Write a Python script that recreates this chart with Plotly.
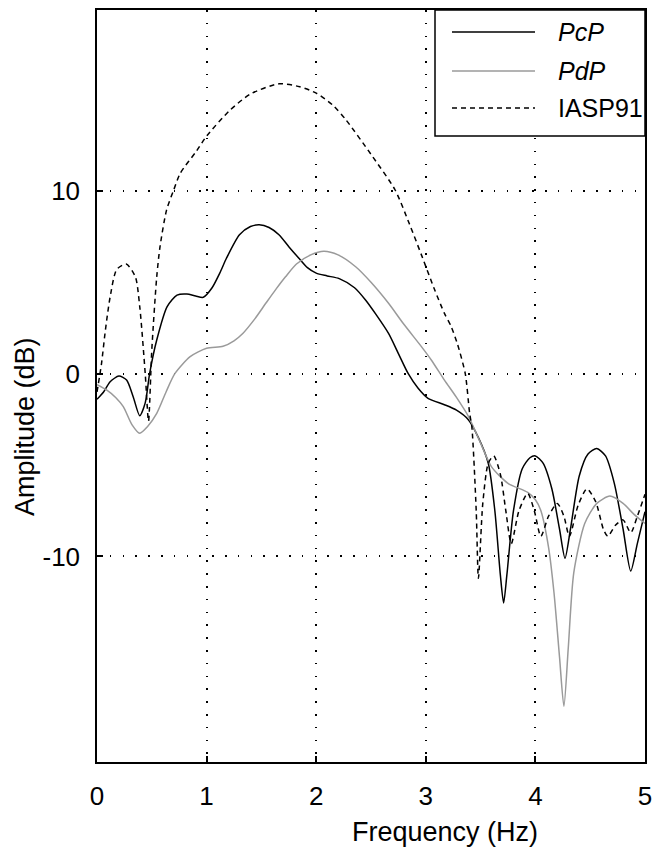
import plotly.graph_objects as go

# ---------------- data ----------------
pcp_f = [0.00, 0.06, 0.12, 0.20, 0.27, 0.33, 0.39, 0.44, 0.48, 0.545, 0.64, 0.73, 0.82, 0.90, 0.97,
         1.05, 1.12, 1.18, 1.30, 1.40, 1.48, 1.57, 1.66, 1.75, 1.84, 1.92, 2.00, 2.10, 2.21, 2.35,
         2.45, 2.55, 2.66, 2.75, 2.84, 2.93, 3.02, 3.17, 3.28, 3.39, 3.48, 3.57, 3.63, 3.68, 3.71,
         3.74, 3.80, 3.88, 3.95, 4.00, 4.07, 4.15, 4.22, 4.27, 4.32, 4.40, 4.48, 4.56, 4.64, 4.72,
         4.80, 4.87, 4.93, 5.00]
pcp_db = [-1.4, -1.0, -0.44, -0.13, -0.35, -1.26, -2.3, -1.6, 0.0, 1.84, 3.67, 4.3, 4.36, 4.25, 4.18,
          4.7, 5.5, 6.3, 7.6, 8.05, 8.15, 8.0, 7.6, 6.95, 6.33, 5.8, 5.5, 5.35, 5.2, 4.7,
          4.03, 3.2, 2.2, 1.1, 0.0, -0.8, -1.35, -1.7, -2.0, -2.53, -3.5, -4.9, -7.5, -11.0, -12.55,
          -11.0, -7.5, -5.2, -4.6, -4.5, -4.9, -6.3, -8.5, -10.1, -8.5, -5.6, -4.4, -4.1, -4.5, -6.0,
          -8.5, -10.8, -9.3, -7.55]

pdp_f = [0.00, 0.09, 0.17, 0.24, 0.32, 0.39, 0.46, 0.545, 0.63, 0.71, 0.85, 1.00, 1.15, 1.25, 1.33,
         1.44, 1.54, 1.63, 1.72, 1.82, 1.95, 2.07, 2.20, 2.36, 2.50, 2.66, 2.80, 2.96, 3.05, 3.17,
         3.28, 3.39, 3.50, 3.60, 3.75, 3.93, 4.00, 4.05, 4.12, 4.17, 4.22, 4.26, 4.30, 4.35, 4.45,
         4.56, 4.68, 4.80, 4.90, 5.00]
pdp_db = [-0.6, -0.9, -1.3, -1.8, -2.8, -3.26, -2.9, -2.17, -1.0, 0.0, 0.93, 1.39, 1.5, 1.8, 2.2,
          3.0, 3.85, 4.6, 5.3, 6.0, 6.5, 6.7, 6.5, 5.85, 5.0, 3.85, 2.7, 1.48, 0.75, -0.35,
          -1.3, -2.35, -3.8, -5.1, -6.0, -6.5, -6.9, -7.5, -9.5, -12.0, -15.5, -18.2, -15.0, -10.9, -8.2,
          -7.1, -6.7, -7.1, -7.7, -8.2]

iasp_f = [0.00, 0.04, 0.077, 0.12, 0.18, 0.267, 0.35, 0.39, 0.44, 0.47, 0.50, 0.545, 0.575, 0.635,
          0.70, 0.76, 0.91, 1.00, 1.21, 1.40, 1.66, 1.85, 2.00, 2.15, 2.27, 2.50, 2.72, 2.85, 2.96,
          3.08, 3.17, 3.23, 3.29, 3.36, 3.40, 3.42, 3.46, 3.48, 3.52, 3.57, 3.62, 3.68, 3.73, 3.78,
          3.85, 3.93, 3.99, 4.05, 4.12, 4.20, 4.26, 4.31, 4.39, 4.47, 4.55, 4.62, 4.66, 4.73, 4.80,
          4.87, 4.93, 5.00]
iasp_db = [-1.0, 0.5, 2.4, 4.2, 5.7, 6.0, 5.3, 3.67, 0.0, -2.6, 1.3, 5.3, 6.95, 8.96,
           10.05, 10.97, 12.2, 13.0, 14.4, 15.3, 15.86, 15.7, 15.35, 14.7, 13.9, 12.0, 10.05, 8.2, 6.5,
           4.6, 3.3, 2.6, 1.6, 0.0, -2.17, -2.9, -7.5, -11.2, -7.1, -4.9, -4.5, -5.5, -7.5, -9.3,
           -7.5, -6.55, -7.5, -8.9, -7.8, -7.1, -7.8, -8.9, -7.2, -6.3, -7.0, -8.5, -8.9, -8.3, -8.0,
           -8.7, -7.8, -6.6]

x_ticks = [0, 1, 2, 3, 4, 5]
y_ticks = [-10, 0, 10]
y_ticktext = ["-10", "0", "10"]
legend_names = ["<i>PcP</i>", "<i>PdP</i>", "IASP91"]

FONT = "Liberation Sans, Arial, Helvetica, sans-serif"
colors = ["black", "#9a9a9a", "black"]
dashes = ["solid", "solid", "5px,4px"]

# plot area in pixels (for placing the annotation-based legend and titles)
L, R, T, B = 97, 9, 10, 86
PW, PH = 654 - L - R, 848 - T - B

fig = go.Figure()
for f, d, c, ds, nm in zip([pcp_f, pdp_f, iasp_f], [pcp_db, pdp_db, iasp_db], colors, dashes, legend_names):
    fig.add_trace(go.Scatter(x=f, y=d, mode="lines", name=nm, showlegend=False,
                             line=dict(color=c, width=1.5, dash=ds, shape="spline", smoothing=0.7)))

axis_common = dict(showline=True, linecolor="black", linewidth=1.5, mirror=True,
                   ticks="inside", ticklen=6, tickwidth=1.5, tickcolor="black",
                   showgrid=True, gridcolor="black", gridwidth=1.5, griddash="1.5px,11.3px",
                   zeroline=False, ticklabeloverflow="allow", automargin=False,
                   tickfont=dict(family=FONT, size=26, color="black"))

fig.update_xaxes(range=[0, 5], tickvals=x_ticks, ticklabelstandoff=10, **axis_common)
fig.update_yaxes(range=[-21.25, 19.9], tickvals=y_ticks, ticktext=y_ticktext,
                 ticklabelstandoff=10, **axis_common)

# manual legend (long line samples like the reference)
px2x = lambda px: (px - L) / PW
py2y = lambda py: (848 - B - py) / PH
fig.add_shape(type="rect", xref="paper", yref="paper", x0=px2x(435), x1=1.0, y0=py2y(136), y1=1.0,
              line=dict(color="black", width=1.5), fillcolor="white", layer="above")
rows_py = [32, 71, 108]
for nm, c, ds, py in zip(legend_names, colors, dashes, rows_py):
    fig.add_shape(type="line", xref="paper", yref="paper", x0=px2x(452), x1=px2x(535),
                  y0=py2y(py), y1=py2y(py), line=dict(color=c, width=1.5, dash=ds), layer="above")
    fig.add_annotation(xref="paper", yref="paper", x=px2x(556), y=py2y(py), text=nm, showarrow=False,
                       xanchor="left", yanchor="middle",
                       font=dict(family=FONT, size=25, color="black"))

# axis titles
fig.add_annotation(xref="paper", yref="paper", x=px2x(445), y=py2y(832),
                   text="Frequency (Hz)", showarrow=False, xanchor="center", yanchor="middle",
                   font=dict(family=FONT, size=27, color="black"))
fig.add_annotation(xref="paper", yref="paper", x=px2x(25), y=py2y(427),
                   text="Amplitude (dB)", showarrow=False, textangle=-90,
                   xanchor="center", yanchor="middle",
                   font=dict(family=FONT, size=27, color="black"))

fig.update_layout(width=654, height=848, margin=dict(l=L, r=R, t=T, b=B, autoexpand=False),
                  plot_bgcolor="white", paper_bgcolor="white", showlegend=False)

fig.write_html("out.html")
